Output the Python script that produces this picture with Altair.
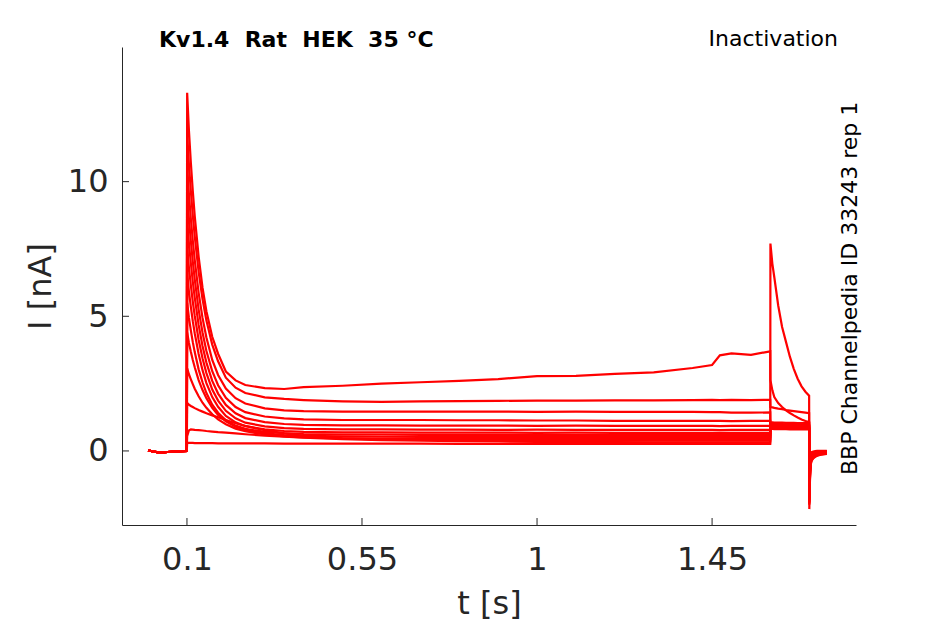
import altair as alt
import pandas as pd

# ---------------- data ----------------
# holding period before the prepulse (shared by all sweeps)
t_base = [0.0, 0.01, 0.03, 0.05, 0.07, 0.0995]
i_base = [0.02, -0.01, -0.06, -0.04, -0.02, 0.0]

# prepulse 0.1 .. 1.6 s
t_pre = [0.1005, 0.105, 0.11, 0.115, 0.12, 0.13, 0.14, 0.15, 0.165, 0.18, 0.2,
         0.225, 0.25, 0.3, 0.35, 0.4, 0.5, 0.6, 0.7, 0.8, 0.9, 1.0, 1.1, 1.2,
         1.3, 1.4, 1.45, 1.47, 1.5, 1.55, 1.5995]

s01_pre = [0.30, 0.30, 0.30, 0.30, 0.29, 0.29, 0.29, 0.29, 0.29, 0.28, 0.28, 0.28, 0.28, 0.28, 0.27, 0.27,
           0.27, 0.27, 0.27, 0.26, 0.26, 0.26, 0.26, 0.26, 0.26, 0.26, 0.26, 0.26, 0.26, 0.26, 0.26]
s02_pre = [0.55, 0.76, 0.80, 0.79, 0.78, 0.77, 0.76, 0.74, 0.72, 0.70, 0.68, 0.65, 0.62, 0.57, 0.53, 0.49,
           0.44, 0.40, 0.38, 0.36, 0.35, 0.34, 0.33, 0.33, 0.32, 0.32, 0.32, 0.32, 0.32, 0.32, 0.32]
s03_pre = [1.78, 1.72, 1.67, 1.63, 1.59, 1.52, 1.46, 1.40, 1.32, 1.25, 1.15, 1.03, 0.93, 0.77, 0.65, 0.56,
           0.47, 0.43, 0.41, 0.40, 0.39, 0.39, 0.38, 0.38, 0.38, 0.38, 0.38, 0.38, 0.38, 0.38, 0.38]
s04_pre = [3.07, 2.85, 2.66, 2.48, 2.31, 2.03, 1.79, 1.60, 1.36, 1.17, 0.99, 0.83, 0.73, 0.61, 0.54, 0.50,
           0.47, 0.46, 0.45, 0.45, 0.45, 0.44, 0.45, 0.44, 0.44, 0.44, 0.44, 0.44, 0.44, 0.44, 0.44]
s05_pre = [4.40, 4.02, 3.68, 3.38, 3.11, 2.63, 2.26, 1.96, 1.60, 1.34, 1.10, 0.90, 0.78, 0.65, 0.59, 0.56,
           0.54, 0.53, 0.52, 0.52, 0.52, 0.51, 0.52, 0.51, 0.51, 0.51, 0.51, 0.51, 0.51, 0.51, 0.51]
s06_pre = [5.50, 4.95, 4.48, 4.04, 3.67, 3.03, 2.55, 2.15, 1.72, 1.42, 1.14, 0.94, 0.82, 0.71, 0.66, 0.63,
           0.61, 0.61, 0.60, 0.60, 0.60, 0.59, 0.60, 0.59, 0.59, 0.59, 0.59, 0.59, 0.59, 0.59, 0.59]
s07_pre = [6.60, 5.93, 5.35, 4.82, 4.37, 3.60, 3.00, 2.52, 2.00, 1.64, 1.30, 1.06, 0.92, 0.80, 0.74, 0.71,
           0.69, 0.69, 0.68, 0.68, 0.68, 0.67, 0.68, 0.67, 0.67, 0.67, 0.67, 0.67, 0.67, 0.67, 0.67]
s08_pre = [7.60, 6.82, 6.15, 5.54, 5.02, 4.13, 3.44, 2.89, 2.28, 1.87, 1.49, 1.21, 1.05, 0.91, 0.85, 0.82,
           0.80, 0.80, 0.79, 0.79, 0.78, 0.79, 0.78, 0.78, 0.78, 0.78, 0.78, 0.77, 0.78, 0.78, 0.78]
s09_pre = [8.60, 7.72, 6.97, 6.28, 5.69, 4.68, 3.90, 3.28, 2.60, 2.13, 1.71, 1.40, 1.22, 1.07, 1.00, 0.97,
           0.95, 0.95, 0.94, 0.94, 0.94, 0.93, 0.94, 0.93, 0.93, 0.93, 0.93, 0.92, 0.93, 0.93, 0.93]
s10_pre = [9.60, 8.63, 7.79, 7.03, 6.37, 5.25, 4.40, 3.71, 2.96, 2.44, 1.97, 1.63, 1.44, 1.28, 1.21, 1.17,
           1.15, 1.15, 1.15, 1.14, 1.14, 1.13, 1.13, 1.12, 1.12, 1.12, 1.12, 1.12, 1.11, 1.12, 1.12]
s11_pre = [10.60, 9.55, 8.63, 7.81, 7.09, 5.87, 4.94, 4.21, 3.38, 2.82, 2.32, 1.96, 1.76, 1.58, 1.51, 1.48,
           1.46, 1.46, 1.46, 1.46, 1.46, 1.45, 1.46, 1.45, 1.45, 1.45, 1.44, 1.44, 1.42, 1.42, 1.43]
s12_pre = [11.80, 10.65, 9.65, 8.75, 7.97, 6.65, 5.64, 4.84, 3.95, 3.33, 2.72, 2.35, 2.15, 1.99, 1.93, 1.89,
           1.84, 1.82, 1.84, 1.85, 1.86, 1.87, 1.87, 1.88, 1.88, 1.89, 1.90, 1.89, 1.90, 1.89, 1.90]
s13_pre = [13.30, 11.92, 10.70, 9.65, 8.72, 7.22, 6.06, 5.19, 4.24, 3.61, 2.95, 2.62, 2.45, 2.33, 2.30, 2.37,
           2.42, 2.50, 2.55, 2.60, 2.67, 2.78, 2.79, 2.86, 2.92, 3.08, 3.19, 3.55, 3.62, 3.57, 3.70]

# test pulse 1.6 .. 1.7 s
t_test = [1.6, 1.605, 1.61, 1.62, 1.63, 1.64, 1.65, 1.66, 1.67, 1.68, 1.69, 1.6995]

s01_test = [7.70, 6.95, 6.45, 5.40, 4.60, 4.05, 3.50, 3.05, 2.68, 2.40, 2.20, 2.05]
s02_test = [0.82, 0.82, 0.81, 0.81, 0.81, 0.81, 0.80, 0.80, 0.80, 0.80, 0.80, 0.80]
s03_test = [0.84, 0.84, 0.83, 0.83, 0.83, 0.83, 0.82, 0.82, 0.82, 0.82, 0.82, 0.82]
s04_test = [0.86, 0.86, 0.85, 0.85, 0.85, 0.85, 0.84, 0.84, 0.84, 0.84, 0.84, 0.84]
s05_test = [0.88, 0.88, 0.87, 0.87, 0.87, 0.87, 0.86, 0.86, 0.86, 0.86, 0.86, 0.86]
s06_test = [0.90, 0.90, 0.89, 0.89, 0.89, 0.89, 0.88, 0.88, 0.88, 0.88, 0.88, 0.88]
s07_test = [0.92, 0.92, 0.91, 0.91, 0.91, 0.91, 0.90, 0.90, 0.90, 0.90, 0.90, 0.90]
s08_test = [0.94, 0.94, 0.94, 0.93, 0.93, 0.93, 0.93, 0.92, 0.92, 0.92, 0.92, 0.92]
s09_test = [0.97, 0.97, 0.97, 0.96, 0.96, 0.96, 0.96, 0.95, 0.95, 0.95, 0.95, 0.95]
s10_test = [1.01, 1.01, 1.00, 1.00, 1.00, 0.99, 0.99, 0.99, 0.99, 0.98, 0.98, 0.98]
s11_test = [1.06, 1.06, 1.05, 1.05, 1.05, 1.04, 1.04, 1.04, 1.03, 1.03, 1.03, 1.03]
s12_test = [1.63, 1.62, 1.60, 1.57, 1.55, 1.52, 1.50, 1.48, 1.46, 1.44, 1.42, 1.40]
s13_test = [2.63, 2.25, 2.00, 1.78, 1.63, 1.51, 1.41, 1.32, 1.24, 1.17, 1.11, 1.07]

# tail after 1.7 s
t_tail = [1.7, 1.7012, 1.7025, 1.704, 1.706, 1.71, 1.715, 1.72, 1.73, 1.745]

s01_tail = [-2.16, -1.30, -0.75, -0.48, -0.36, -0.28, -0.22, -0.18, -0.14, -0.11]
s02_tail = [-1.45, -0.65, -0.28, -0.10, -0.04, -0.02, -0.01, 0.00, 0.00, 0.00]
s03_tail = [-1.50, -0.70, -0.32, -0.14, -0.08, -0.05, -0.04, -0.03, -0.02, -0.01]
s04_tail = [-1.55, -0.75, -0.36, -0.18, -0.11, -0.08, -0.06, -0.05, -0.04, -0.02]
s05_tail = [-1.60, -0.80, -0.40, -0.22, -0.14, -0.10, -0.08, -0.07, -0.05, -0.03]
s06_tail = [-1.65, -0.85, -0.44, -0.25, -0.17, -0.12, -0.10, -0.08, -0.06, -0.04]
s07_tail = [-1.70, -0.90, -0.48, -0.28, -0.20, -0.14, -0.12, -0.10, -0.07, -0.05]
s08_tail = [-1.75, -0.95, -0.52, -0.31, -0.23, -0.16, -0.13, -0.11, -0.08, -0.05]
s09_tail = [-1.80, -1.00, -0.55, -0.34, -0.25, -0.18, -0.15, -0.12, -0.09, -0.06]
s10_tail = [-1.85, -1.05, -0.58, -0.37, -0.27, -0.20, -0.16, -0.13, -0.10, -0.07]
s11_tail = [-1.90, -1.10, -0.62, -0.40, -0.29, -0.22, -0.18, -0.15, -0.11, -0.08]
s12_tail = [-1.95, -1.15, -0.66, -0.42, -0.31, -0.24, -0.19, -0.16, -0.12, -0.09]
s13_tail = [-2.00, -1.20, -0.70, -0.45, -0.33, -0.26, -0.21, -0.17, -0.13, -0.10]

x_ticks = [0.1, 0.55, 1, 1.45]
y_ticks = [0, 5, 10]

sweeps = [
    (s01_pre, s01_test, s01_tail), (s02_pre, s02_test, s02_tail), (s03_pre, s03_test, s03_tail),
    (s04_pre, s04_test, s04_tail), (s05_pre, s05_test, s05_tail), (s06_pre, s06_test, s06_tail),
    (s07_pre, s07_test, s07_tail), (s08_pre, s08_test, s08_tail), (s09_pre, s09_test, s09_tail),
    (s10_pre, s10_test, s10_tail), (s11_pre, s11_test, s11_tail), (s12_pre, s12_test, s12_tail),
    (s13_pre, s13_test, s13_tail),
]

rows = []
for k, (pre, test, tail) in enumerate(sweeps):
    seq = 0
    for tt, vv in zip(t_base + t_pre + t_test + t_tail, i_base + pre + test + tail):
        rows.append({"t": tt, "I": vv, "sweep": k, "seq": seq})
        seq += 1
df = pd.DataFrame(rows)

# ---------------- chart ----------------
W, H = 734, 478
FONT = "DejaVu Sans"
AX = "#262626"

xs = alt.Scale(domain=[-0.067, 1.82], nice=False, zero=False)
ys = alt.Scale(domain=[-2.75, 15], nice=False, zero=False)

x_axis = alt.Axis(
    values=x_ticks, format=".3~g", title="t [s]", ticks=False,
    labelPadding=19, titleX=W / 2, titleY=88, titleBaseline="alphabetic",
    titleAlign="center")
y_axis = alt.Axis(
    values=y_ticks, format=".3~g", title="I [nA]", ticks=False,
    labelPadding=14, titleX=-72, titleY=H / 2, titleAngle=270,
    titleBaseline="alphabetic", titleAlign="center")

traces = alt.Chart(df).mark_line(color="#ff0000", strokeWidth=2.2, clip=True).encode(
    x=alt.X("t:Q", scale=xs, axis=x_axis, title="t [s]"),
    y=alt.Y("I:Q", scale=ys, axis=y_axis, title="I [nA]"),
    detail="sweep:N",
    order="seq:Q",
)

# inward tick marks (MATLAB style)
xtick_layer = alt.Chart(pd.DataFrame({"t": x_ticks})).mark_rule(color=AX, strokeWidth=1).encode(
    x=alt.X("t:Q", scale=xs, axis=x_axis, title="t [s]"),
    y=alt.value(H),
    y2=alt.value(H - 7),
)
ytick_layer = alt.Chart(pd.DataFrame({"I": y_ticks})).mark_rule(color=AX, strokeWidth=1).encode(
    y=alt.Y("I:Q", scale=ys, axis=y_axis, title="I [nA]"),
    x=alt.value(0),
    x2=alt.value(7),
)

one = pd.DataFrame({"a": [0]})
title_left = alt.Chart(one).mark_text(
    text="Kv1.4 \u00a0Rat \u00a0HEK \u00a035 °C", font=FONT, fontSize=22, fontWeight="bold",
    align="left", baseline="alphabetic", color="black").encode(x=alt.value(37), y=alt.value(-0.5))
title_right = alt.Chart(one).mark_text(
    text="Inactivation", font=FONT, fontSize=22, align="right", baseline="alphabetic",
    color="black").encode(x=alt.value(716), y=alt.value(-1))
side = alt.Chart(one).mark_text(
    text="BBP Channelpedia ID 33243 rep 1", font=FONT, fontSize=22, angle=270,
    align="left", baseline="alphabetic", color="black").encode(x=alt.value(735), y=alt.value(428))

chart = alt.layer(traces, xtick_layer, ytick_layer, title_left, title_right, side).properties(
    width=W, height=H,
    autosize=alt.AutoSizeParams(type="none"),
    padding={"left": 114, "top": 39, "right": 40, "bottom": 96},
).configure_view(stroke=None).configure_axis(
    grid=False, domainColor=AX, domainWidth=1, labelColor=AX, titleColor=AX,
    labelFont=FONT, titleFont=FONT, labelFontSize=32, titleFontSize=32,
    titleFontWeight="normal",
)

chart.save("out.html", embed_options={"renderer": "svg", "actions": False})
